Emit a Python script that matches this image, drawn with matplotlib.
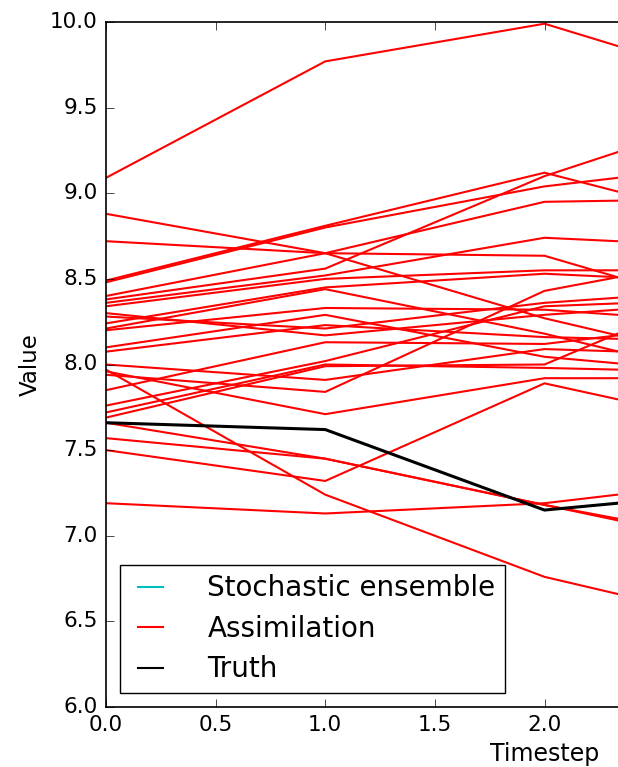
import numpy as np
import matplotlib
matplotlib.use("Agg")
import matplotlib.pyplot as plt
from matplotlib.lines import Line2D
from matplotlib.ticker import FormatStrFormatter

plt.style.use('classic')

# -----------------------------------------------------------------------------
# data (timesteps 0..3, timestep 3 is past the right edge)
# -----------------------------------------------------------------------------
timesteps = [0, 1, 2, 3]

truth = [7.66, 7.62, 7.15, 7.27]

# assimilation members, one row per member
assim_0 = [9.09, 8.88, 8.72, 8.49, 8.48, 8.38, 8.40, 8.36, 8.34, 8.24,
           8.21, 8.20, 8.10, 8.075, 8.28, 8.30, 7.85, 7.76, 7.72, 7.69,
           8.00, 7.94, 7.96, 7.50, 7.57, 7.66, 7.19, 7.97]
assim_1 = [9.77, 8.65, 8.65, 8.81, 8.80, 8.56, 8.65, 8.52, 8.50, 8.45,
           8.44, 8.33, 8.29, 8.23, 8.21, 8.17, 8.13, 8.02, 8.00, 7.99,
           7.91, 7.84, 7.71, 7.32, 7.45, 7.45, 7.13, 7.24]
assim_2 = [9.99, 8.27, 8.635, 9.12, 9.04, 9.10, 8.95, 8.74, 8.55, 8.53,
           8.18, 8.32, 8.045, 8.16, 8.36, 8.29, 8.12, 8.34, 7.98, 8.00,
           8.09, 8.43, 7.92, 7.89, 7.18, 7.18, 7.19, 6.76]
assim_3 = [9.60, 7.97, 8.26, 8.79, 9.19, 9.52, 8.97, 8.68, 8.55, 8.47,
           7.87, 8.23, 7.93, 8.13, 8.45, 8.38, 8.27, 8.39, 7.95, 8.54,
           8.05, 8.67, 7.92, 7.61, 6.94, 6.91, 7.34, 6.46]

stochastic = []  # no visible stochastic members

x_ticks = [0.0, 0.5, 1.0, 1.5, 2.0]  # the ones that fit in the crop
y_ticks = [6.0, 6.5, 7.0, 7.5, 8.0, 8.5, 9.0, 9.5, 10.0]

# -----------------------------------------------------------------------------
# Plotting
# -----------------------------------------------------------------------------
fig = plt.figure(figsize=(6.18, 7.67), dpi=100, facecolor='white')
# axes runs 0..4 but the picture is cropped at about 2.33
ax = fig.add_axes([106/618, 60/767, 877/618, 685/767])

assim = np.array([assim_0, assim_1, assim_2, assim_3])
for i in range(assim.shape[1]):
    ax.plot(timesteps, assim[:, i], color='r', linewidth=1.5)

ax.plot(stochastic, stochastic, color='c', linewidth=1.5)
ax.plot(timesteps, truth, color='k', linewidth=2.2)

ax.set_xlim(0, 4)
ax.set_ylim(6.0, 10.0)
ax.set_xticks(x_ticks)
ax.set_yticks(y_ticks)
ax.xaxis.set_major_formatter(FormatStrFormatter('%.1f'))
ax.yaxis.set_major_formatter(FormatStrFormatter('%.1f'))
ax.tick_params(labelsize=15.5, length=6, pad=6)
for s in ax.spines.values():
    s.set_linewidth(1.2)

ax.set_xlabel('Timestep', fontsize=17, labelpad=5)
ax.set_ylabel('Value', fontsize=16.5, labelpad=6)

handles = [Line2D([], [], color='c', linewidth=1.5),
           Line2D([], [], color='r', linewidth=1.5),
           Line2D([], [], color='k', linewidth=1.5)]
ax.legend(handles, ['Stochastic ensemble', 'Assimilation', 'Truth'],
          loc='lower left', fontsize=20, handlelength=1.5,
          handletextpad=1.3, labelspacing=0.45, borderpad=0.35,
          borderaxespad=0.5, frameon=True, fancybox=False)

fig.savefig('out.png', dpi=100, facecolor='white')
